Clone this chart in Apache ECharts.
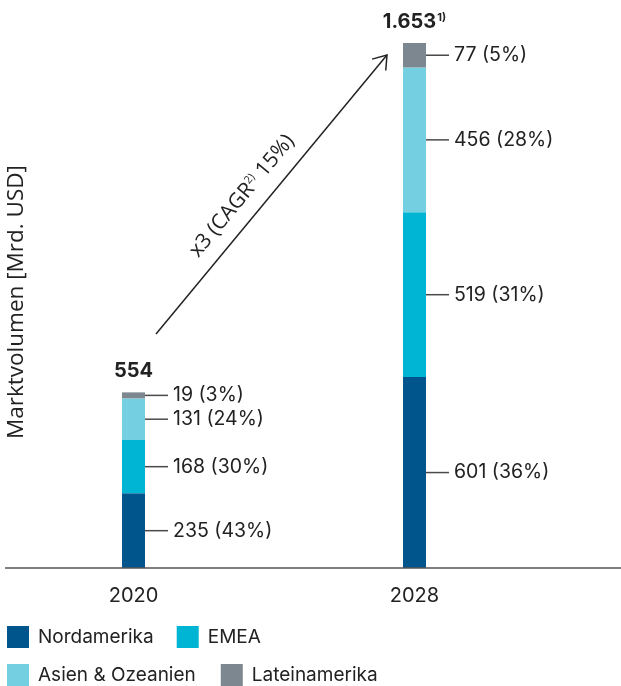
<!DOCTYPE html>
<html><head><meta charset="utf-8">
<script src="https://cdn.jsdelivr.net/npm/echarts@6/dist/echarts.min.js"></script>
<style>html,body{margin:0;padding:0;background:#fff}#c{width:621px;height:686px}</style>
</head><body><div id="c"></div>
<script>
const categories = ['2020', '2028'];
const nordamerika = [235, 601];
const emea = [168, 519];
const asien = [131, 456];
const latein = [19, 77];
const pctNord = [43, 36];
const pctEmea = [30, 31];
const pctAsien = [24, 28];
const pctLatein = [3, 5];
const totals = [554, 1653];
const totalNotes = ['', '1)'];

const colors = {nord: '#00558c', emea: '#00b5d3', asien: '#74cfe1', latein: '#7d8790'};
const FONT = 'Inter';
const TXT = '#222';

function segLabel(pcts) {
  return {
    show: true, position: 'right', distance: 0,
    formatter: p => '{l|}{t|' + p.value + ' (' + pcts[p.dataIndex] + '%)}',
    rich: {
      l: {width: 23, height: 1.5, backgroundColor: '#4a4a4a'},
      t: {fontSize: 19.5, color: TXT, fontFamily: FONT, padding: [0, 0, 0, 5]}
    }
  };
}
function seg(name, data, color, pcts) {
  return {name, type: 'bar', stack: 'a', data, barWidth: 23, itemStyle: {color},
    label: segLabel(pcts), emphasis: {disabled: true}};
}

const legendText = {fontSize: 19, color: TXT, fontFamily: FONT, padding: [0, 0, 0, 4]};
const chart = echarts.init(document.getElementById('c'));
chart.setOption({
  animation: false,
  grid: {left: 133.5, right: 206.5, top: 43, bottom: 118},
  xAxis: {type: 'category', data: categories, boundaryGap: false,
    axisLine: {show: false}, axisTick: {show: false},
    axisLabel: {margin: 18, fontSize: 20, color: TXT, fontFamily: FONT}},
  yAxis: {type: 'value', min: 0, max: 1653, show: false},
  legend: [
    {data: ['Nordamerika', 'EMEA'], left: 7, top: 626, padding: 0, itemWidth: 22, itemHeight: 22, itemGap: 23,
      icon: 'rect', textStyle: legendText, selectedMode: false},
    {data: ['Asien & Ozeanien', 'Lateinamerika'], left: 7, top: 664, padding: 0, itemWidth: 22, itemHeight: 22, itemGap: 25,
      icon: 'rect', textStyle: legendText, selectedMode: false}
  ],
  series: [
    seg('Nordamerika', nordamerika, colors.nord, pctNord),
    seg('EMEA', emea, colors.emea, pctEmea),
    seg('Asien & Ozeanien', asien, colors.asien, pctAsien),
    seg('Lateinamerika', latein, colors.latein, pctLatein),
    {name: 'Gesamt', type: 'bar', data: totals, barWidth: 23, barGap: '-100%', z: 0,
      itemStyle: {color: 'rgba(0,0,0,0)'}, emphasis: {disabled: true},
      label: {show: true, position: 'top', distance: 11,
        formatter: p => '{b|' + p.value.toLocaleString('de-DE') + '}' + (totalNotes[p.dataIndex] ? '{s|' + totalNotes[p.dataIndex] + '}' : ''),
        rich: {
          b: {fontSize: 20, fontWeight: 'bold', color: TXT, fontFamily: FONT, lineHeight: 20},
          s: {fontSize: 11, fontWeight: 'bold', color: TXT, fontFamily: FONT, verticalAlign: 'top', padding: [0, 0, 8, 1]}
        }}}
  ]
});

// decorations
const y0 = chart.convertToPixel({gridIndex: 0}, [0, 0])[1];
const A = [156, 334], B = [387, 55];
const len = Math.hypot(A[0] - B[0], A[1] - B[1]);
const ux = (A[0] - B[0]) / len, uy = (A[1] - B[1]) / len;
const ang = 35 * Math.PI / 180, al = 15.5;
const arm = s => [B[0] + al * (ux * Math.cos(ang) - s * uy * Math.sin(ang)), B[1] + al * (s * ux * Math.sin(ang) + uy * Math.cos(ang))];
const rot = Math.atan2(A[1] - B[1], B[0] - A[0]);
chart.setOption({
  graphic: [
    {type: 'line', shape: {x1: 5, y1: y0, x2: 621, y2: y0}, style: {stroke: '#555', lineWidth: 1.5}, z: 10},
    {type: 'line', shape: {x1: A[0], y1: A[1], x2: B[0], y2: B[1]}, style: {stroke: '#222', lineWidth: 1.5}},
    {type: 'polyline', shape: {points: [arm(1), B, arm(-1)]}, style: {stroke: '#222', lineWidth: 1.5, fill: null}},
    {type: 'text', x: 242, y: 196, rotation: rot,
      style: {text: '{a|x3 (CAGR}{s|2)}{a| 15%)}', align: 'center', verticalAlign: 'middle',
        rich: {a: {fontSize: 21, fill: TXT, fontFamily: 'Open Sans'},
               s: {fontSize: 11, fill: TXT, fontFamily: 'Open Sans', verticalAlign: 'top', padding: [0, 0, 9, 0]}}}},
    {type: 'text', x: 17, y: 302, rotation: Math.PI / 2,
      style: {text: 'Marktvolumen [Mrd. USD]', align: 'center', verticalAlign: 'middle',
        fontSize: 22.5, fill: TXT, fontFamily: 'Open Sans'}}
  ]
});
</script></body></html>
